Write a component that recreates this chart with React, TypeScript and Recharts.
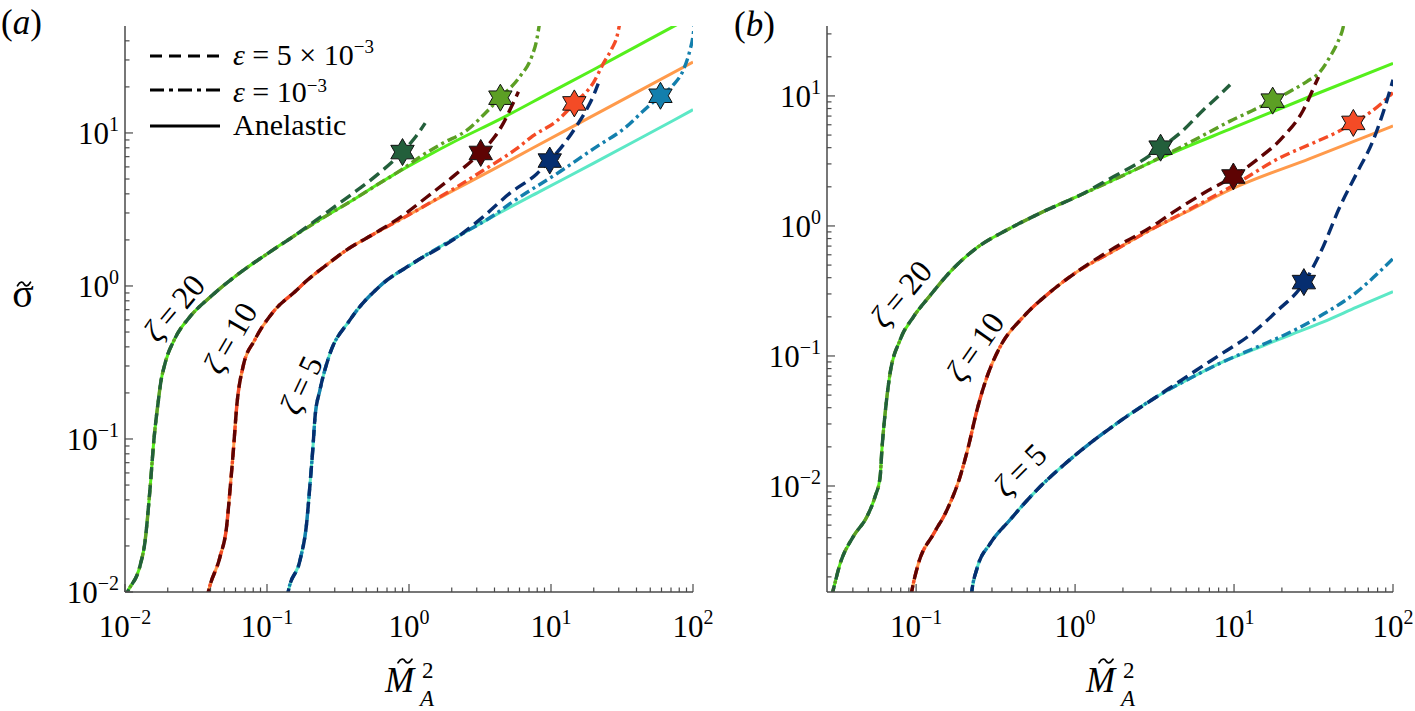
import React from "react";
import { ComposedChart, Line, Scatter, XAxis, YAxis } from "recharts";

type Pt = [number, number];

const FONT = "Liberation Serif, DejaVu Serif, Times New Roman, serif";
const AXIS_COLOR = "#4a4a4a";

// colours
const C20_SOLID = "#55ef1c";
const C20_DOT = "#5c9f24";
const C20_DASH = "#235f3b";
const C10_SOLID = "#ff9a4b";
const C10_DOT = "#f44b26";
const C10_DASH = "#5e0303";
const C5_SOLID = "#5ce8c6";
const C5_DOT = "#137fad";
const C5_DASH = "#062e70";

// ---------------- Panel (a) data ----------------
const A20_BASE: Pt[] = [[0.0098, 0.0088], [0.0104, 0.01], [0.0128, 0.015], [0.0138, 0.021], [0.015, 0.047], [0.016, 0.1], [0.0172, 0.18], [0.0178, 0.23], [0.0191, 0.31], [0.0225, 0.455], [0.0287, 0.63], [0.04, 0.85], [0.0645, 1.22], [0.1, 1.62], [0.15, 2.08]];
const A20_SOLID_TAIL: Pt[] = [[0.25, 2.8], [0.384, 3.55], [0.6, 4.6], [0.912, 5.8], [1.41, 7.25], [2, 8.6], [4.6, 12.6], [10, 18.5], [20, 26], [40, 36.8], [70.8, 49], [100, 58]];
const A20_DASH_TAIL: Pt[] = [[0.25, 2.92], [0.384, 3.9], [0.593, 5.3], [0.897, 7.5], [1.1, 9.3], [1.3, 11.6]];
const A20_DOT_TAIL: Pt[] = [[0.25, 2.8], [0.384, 3.55], [0.6, 4.6], [0.912, 5.85], [1.2, 7.0], [1.74, 8.6], [2.55, 10.4], [3.4, 13.3], [4.38, 17.0], [6.05, 23.4], [7.31, 31.5], [7.93, 40.5], [8.3, 52]];

const A10_BASE: Pt[] = [[0.0375, 0.0088], [0.0386, 0.01], [0.0467, 0.017], [0.052, 0.027], [0.0549, 0.0465], [0.058, 0.085], [0.0612, 0.163], [0.068, 0.3], [0.082, 0.444], [0.111, 0.68], [0.16, 0.93], [0.19, 1.08], [0.27, 1.4], [0.364, 1.72]];
const A10_SOLID_TAIL: Pt[] = [[0.5, 2.05], [0.735, 2.5], [1, 2.92], [1.65, 3.78], [3.92, 5.78], [7.5, 8.0], [17.8, 12.3], [40, 18.4], [100, 29.1]];
const A10_DASH_TAIL: Pt[] = [[0.58, 2.22], [0.91, 2.9], [1.33, 3.8], [2.1, 5.3], [3.16, 7.4], [4.0, 9.4], [4.6, 11.5], [5.2, 14.5], [5.9, 18.6]];
const A10_DOT_TAIL: Pt[] = [[0.5, 2.05], [0.735, 2.5], [1, 2.92], [1.65, 3.82], [2.4, 4.7], [3.34, 5.7], [5.73, 7.9], [7.5, 9.6], [11, 12.0], [14.6, 15.6], [20, 21.5], [23.4, 28.5], [27, 36], [29, 42], [30.5, 52]];

const A5_BASE: Pt[] = [[0.138, 0.0088], [0.141, 0.01], [0.171, 0.0162], [0.19, 0.028], [0.201, 0.051], [0.21, 0.085], [0.218, 0.14], [0.236, 0.209], [0.27, 0.335], [0.384, 0.6], [0.625, 1.0], [1.07, 1.41], [2.29, 2.15]];
const A5_SOLID_TAIL: Pt[] = [[4, 2.88], [8.37, 4.15], [20, 6.35], [40, 8.96], [72.6, 12.07], [100, 14.2]];
const A5_DASH_TAIL: Pt[] = [[3.34, 2.84], [5.14, 4.04], [7.93, 5.4], [9.8, 6.6], [12.5, 8.6], [15.5, 11.5], [18, 14.5], [20, 17.7], [21.5, 21]];
const A5_DOT_TAIL: Pt[] = [[4, 2.92], [5.14, 3.45], [11.6, 5.6], [20, 7.9], [34, 11], [45, 14], [59, 17.5], [72.6, 20.6], [85.5, 25.8], [95.3, 34.9], [99.5, 41.7], [102, 50]];

const A_STARS = [
  { x: 0.9, y: 7.5, c: C20_DASH },
  { x: 4.4, y: 17, c: C20_DOT },
  { x: 3.2, y: 7.4, c: C10_DASH },
  { x: 14.6, y: 15.6, c: C10_DOT },
  { x: 9.8, y: 6.6, c: C5_DASH },
  { x: 59, y: 17.5, c: C5_DOT },
];

// ---------------- Panel (b) data ----------------
const B20_BASE: Pt[] = [[0.0293, 0.0014], [0.0299, 0.00154], [0.0333, 0.00254], [0.0403, 0.0041], [0.049, 0.0058], [0.0552, 0.0083], [0.0594, 0.0118], [0.0609, 0.019], [0.0638, 0.036], [0.068, 0.069], [0.0793, 0.133], [0.0962, 0.2], [0.122, 0.29], [0.164, 0.445], [0.241, 0.68], [0.372, 0.93], [0.632, 1.29], [1.07, 1.72]];
const B20_SOLID_TAIL: Pt[] = [[2.01, 2.45], [3.43, 3.32], [10, 5.72], [30, 9.9], [100, 17.8]];
const B20_DASH_TAIL: Pt[] = [[1.74, 2.39], [2.5, 3.05], [3.45, 4.0], [4.57, 5.17], [6.41, 7.8], [8, 10], [9.44, 12.2]];
const B20_DOT_TAIL: Pt[] = [[2.01, 2.45], [3.43, 3.36], [5.29, 4.4], [9.44, 6.4], [13, 7.7], [17.5, 9.2], [23, 11], [28.7, 12.9], [35, 15.5], [40.2, 20.1], [45, 26], [48.7, 34.1], [50, 40]];

const B10_BASE: Pt[] = [[0.0925, 0.0014], [0.0938, 0.00154], [0.103, 0.0025], [0.129, 0.0043], [0.156, 0.0065], [0.189, 0.0118], [0.213, 0.02], [0.241, 0.038], [0.279, 0.069], [0.338, 0.118], [0.473, 0.2], [0.697, 0.31], [1.03, 0.445]];
const B10_SOLID_TAIL: Pt[] = [[1.7, 0.63], [2.82, 0.9], [5, 1.28], [9.9, 1.95], [30, 3.3], [100, 5.88]];
const B10_DASH_TAIL: Pt[] = [[1.7, 0.66], [3.04, 0.99], [4.36, 1.33], [6.5, 1.8], [9.9, 2.4], [13.9, 3.22], [20.4, 4.86], [27.3, 7.8], [32.3, 12.2], [34, 14]];
const B10_DOT_TAIL: Pt[] = [[1.7, 0.63], [2.82, 0.9], [5, 1.3], [9.9, 2.05], [19.5, 3.35], [31.5, 4.35], [45, 5.3], [56.3, 6.2], [70, 7.3], [85, 8.8], [100, 10.6]];

const B5_BASE: Pt[] = [[0.222, 0.0014], [0.224, 0.00154], [0.241, 0.0023], [0.292, 0.0036], [0.39, 0.0055], [0.574, 0.0093], [0.976, 0.0168], [1.83, 0.0303], [3.26, 0.0486]];
const B5_SOLID_TAIL: Pt[] = [[5.29, 0.0673], [8.57, 0.0904], [13.9, 0.1146], [22.5, 0.145], [36.5, 0.183], [59.1, 0.237], [100, 0.312]];
const B5_DASH_TAIL: Pt[] = [[5.82, 0.078], [8.57, 0.106], [12.6, 0.145], [18.5, 0.22], [27.3, 0.36], [34.8, 0.617], [46.4, 1.41], [59.1, 2.54], [75.2, 4.59], [89.1, 8.27], [100, 13.3]];
const B5_DOT_TAIL: Pt[] = [[5.29, 0.0673], [8.57, 0.0904], [13.9, 0.117], [22.5, 0.152], [36.5, 0.21], [59.1, 0.31], [80, 0.43], [100, 0.56]];

const B_STARS = [
  { x: 3.45, y: 4.0, c: C20_DASH },
  { x: 17.5, y: 9.2, c: C20_DOT },
  { x: 9.9, y: 2.4, c: C10_DASH },
  { x: 56.3, y: 6.2, c: C10_DOT },
  { x: 27.5, y: 0.37, c: C5_DASH },
];

// ---------------- axes ----------------
const A_X_DOMAIN: [number, number] = [0.01, 100];
const A_Y_DOMAIN: [number, number] = [0.01, 50];
const B_X_DOMAIN: [number, number] = [0.0275, 100];
const B_Y_DOMAIN: [number, number] = [0.00153, 34.5];

const MANTISSAS = [1, 2, 3, 4, 5, 6, 7, 8, 9];
const logTicks = (lo: number, hi: number) => {
  const out: number[] = [];
  for (let e = Math.floor(Math.log10(lo)); e <= Math.ceil(Math.log10(hi)); e++) {
    for (const m of MANTISSAS) {
      const v = parseFloat((m * Math.pow(10, e)).toPrecision(6));
      if (v >= lo * 0.9999 && v <= hi * 1.0001) out.push(v);
    }
  }
  return out;
};
const A_X_TICKS = logTicks(0.01, 100);
const A_Y_TICKS = logTicks(0.01, 40);
const B_X_TICKS = logTicks(0.03, 100);
const B_Y_TICKS = logTicks(0.002, 30);

const isMajor = (v: number) => Math.abs(Math.log10(v) - Math.round(Math.log10(v))) < 1e-6;
const expText = (v: number) => {
  const e = Math.round(Math.log10(v));
  return e < 0 ? "\u2212" + Math.abs(e) : String(e);
};
const MAJOR_LEN = 8;
const MINOR_LEN = 4.5;
const TICK_FS = 31;
const SUP_FS = 20;
const SUP_DY = -13;

function BottomTick(p: any) {
  const { x, y, payload } = p;
  const m = isMajor(payload.value);
  return (
    <g>
      <line x1={x} x2={x} y1={y} y2={y - (m ? MAJOR_LEN : MINOR_LEN)} stroke={AXIS_COLOR} strokeWidth={1.2} />
      {m && (
        <text x={x} y={y + 45} textAnchor="middle" fontFamily={FONT} fontSize={TICK_FS} fill="#000">
          10<tspan dy={SUP_DY} fontSize={SUP_FS}>{expText(payload.value)}</tspan>
        </text>
      )}
    </g>
  );
}
function TopTick(p: any) {
  const { x, y, payload } = p;
  const m = isMajor(payload.value);
  return <line x1={x} x2={x} y1={y} y2={y + (m ? MAJOR_LEN : MINOR_LEN)} stroke={AXIS_COLOR} strokeWidth={1.2} />;
}
function LeftTick(p: any) {
  const { x, y, payload } = p;
  const m = isMajor(payload.value);
  return (
    <g>
      <line x1={x} x2={x + (m ? MAJOR_LEN : MINOR_LEN)} y1={y} y2={y} stroke={AXIS_COLOR} strokeWidth={1.2} />
      {m && (
        <text x={x - 6} y={y + 11} textAnchor="end" fontFamily={FONT} fontSize={TICK_FS} fill="#000">
          10<tspan dy={SUP_DY} fontSize={SUP_FS}>{expText(payload.value)}</tspan>
        </text>
      )}
    </g>
  );
}
function RightTick(p: any) {
  const { x, y, payload } = p;
  const m = isMajor(payload.value);
  return <line x1={x} x2={x - (m ? MAJOR_LEN : MINOR_LEN)} y1={y} y2={y} stroke={AXIS_COLOR} strokeWidth={1.2} />;
}

function Hexagram(props: any) {
  const { cx, cy, payload } = props;
  if (cx == null || cy == null) return <g />;
  const R = 13.5;
  const r = R / Math.sqrt(3);
  const pts = Array.from({ length: 12 }, (_, i) => {
    const a = ((-90 + i * 30) * Math.PI) / 180;
    const rr = i % 2 === 0 ? R : r;
    return `${cx + rr * Math.cos(a)},${cy + rr * Math.sin(a)}`;
  }).join(" ");
  return <polygon points={pts} fill={payload.c} stroke="#111" strokeWidth={1} />;
}

type Curve = { key: string; pts: Pt[]; color: string; dash?: string; width: number };
const toXY = (arr: Pt[]) => arr.map(([x, y]) => ({ x, y }));

const DASH = "12 6";
const DASHDOT = "10 4 3 4";

const A_CURVES: Curve[] = [
  { key: "a20s", pts: [...A20_BASE, ...A20_SOLID_TAIL], color: C20_SOLID, width: 3 },
  { key: "a10s", pts: [...A10_BASE, ...A10_SOLID_TAIL], color: C10_SOLID, width: 3 },
  { key: "a5s", pts: [...A5_BASE, ...A5_SOLID_TAIL], color: C5_SOLID, width: 3 },
  { key: "a20d", pts: [...A20_BASE, ...A20_DOT_TAIL], color: C20_DOT, dash: DASHDOT, width: 3.4 },
  { key: "a10d", pts: [...A10_BASE, ...A10_DOT_TAIL], color: C10_DOT, dash: DASHDOT, width: 3.4 },
  { key: "a5d", pts: [...A5_BASE, ...A5_DOT_TAIL], color: C5_DOT, dash: DASHDOT, width: 3.4 },
  { key: "a20e", pts: [...A20_BASE, ...A20_DASH_TAIL], color: C20_DASH, dash: DASH, width: 3.4 },
  { key: "a10e", pts: [...A10_BASE, ...A10_DASH_TAIL], color: C10_DASH, dash: DASH, width: 3.4 },
  { key: "a5e", pts: [...A5_BASE, ...A5_DASH_TAIL], color: C5_DASH, dash: DASH, width: 3.4 },
];
const B_CURVES: Curve[] = [
  { key: "b20s", pts: [...B20_BASE, ...B20_SOLID_TAIL], color: C20_SOLID, width: 3 },
  { key: "b10s", pts: [...B10_BASE, ...B10_SOLID_TAIL], color: C10_SOLID, width: 3 },
  { key: "b5s", pts: [...B5_BASE, ...B5_SOLID_TAIL], color: C5_SOLID, width: 3 },
  { key: "b20d", pts: [...B20_BASE, ...B20_DOT_TAIL], color: C20_DOT, dash: DASHDOT, width: 3.4 },
  { key: "b10d", pts: [...B10_BASE, ...B10_DOT_TAIL], color: C10_DOT, dash: DASHDOT, width: 3.4 },
  { key: "b5d", pts: [...B5_BASE, ...B5_DOT_TAIL], color: C5_DOT, dash: DASHDOT, width: 3.4 },
  { key: "b20e", pts: [...B20_BASE, ...B20_DASH_TAIL], color: C20_DASH, dash: DASH, width: 3.4 },
  { key: "b10e", pts: [...B10_BASE, ...B10_DASH_TAIL], color: C10_DASH, dash: DASH, width: 3.4 },
  { key: "b5e", pts: [...B5_BASE, ...B5_DASH_TAIL], color: C5_DASH, dash: DASH, width: 3.4 },
];

function Panel(props: {
  left: number;
  width: number;
  rightMargin: number;
  yAxisWidth: number;
  xDomain: [number, number];
  yDomain: [number, number];
  xTicks: number[];
  yTicks: number[];
  curves: Curve[];
  stars: { x: number; y: number; c: string }[];
}) {
  const { left, width, rightMargin, yAxisWidth, xDomain, yDomain, xTicks, yTicks, curves, stars } = props;
  const axisLine = { stroke: AXIS_COLOR, strokeWidth: 1.5 };
  return (
    <div style={{ position: "absolute", left, top: 0 }}>
      <ComposedChart width={width} height={711} margin={{ top: 26, right: rightMargin, bottom: 0, left: 0 }}>
        <XAxis xAxisId="b" orientation="bottom" dataKey="x" type="number" scale="log" domain={xDomain} allowDataOverflow ticks={xTicks} interval={0} tickSize={0} tickMargin={0} tickLine={false} axisLine={axisLine} tick={(p: any) => <BottomTick {...p} />} height={119} />
        <XAxis xAxisId="t" orientation="top" dataKey="x" type="number" scale="log" domain={xDomain} allowDataOverflow ticks={xTicks} interval={0} tickSize={0} tickMargin={0} tickLine={false} axisLine={axisLine} tick={(p: any) => <TopTick {...p} />} height={0} />
        <YAxis yAxisId="l" orientation="left" type="number" scale="log" domain={yDomain} allowDataOverflow ticks={yTicks} interval={0} tickSize={0} tickMargin={0} tickLine={false} axisLine={axisLine} tick={(p: any) => <LeftTick {...p} />} width={yAxisWidth} />
        <YAxis yAxisId="r" orientation="right" type="number" scale="log" domain={yDomain} allowDataOverflow ticks={yTicks} interval={0} tickSize={0} tickMargin={0} tickLine={false} axisLine={axisLine} tick={(p: any) => <RightTick {...p} />} width={0} />
        {curves.map((c) => (
          <Line
            key={c.key}
            xAxisId="b"
            yAxisId="l"
            data={toXY(c.pts)}
            dataKey="y"
            type="monotone"
            stroke={c.color}
            strokeWidth={c.width}
            strokeDasharray={c.dash}
            dot={false}
            activeDot={false}
            isAnimationActive={false}
          />
        ))}
        <Scatter xAxisId="b" yAxisId="l" data={stars} dataKey="y" shape={(p: any) => <Hexagram {...p} />} isAnimationActive={false} />
      </ComposedChart>
    </div>
  );
}

function ZetaLabel({ x, y, angle, value }: { x: number; y: number; angle: number; value: string }) {
  return (
    <text transform={`translate(${x},${y}) rotate(${angle})`} textAnchor="middle" dominantBaseline="central" fontFamily={FONT} fontSize={32} fill="#000">
      <tspan fontStyle="italic">ζ</tspan>
      {"\u2009=\u2009" + value}
    </text>
  );
}

// hand-drawn tilde accent (path), centred at (x, y)
function Tilde({ x, y, w }: { x: number; y: number; w: number }) {
  const h = w / 2;
  return (
    <path
      d={`M ${x - h} ${y + 1.8} C ${x - h * 0.55} ${y - 3.2}, ${x - h * 0.2} ${y - 2.2}, ${x} ${y} S ${x + h * 0.55} ${y + 3.2}, ${x + h} ${y - 1.8}`}
      fill="none"
      stroke="#000"
      strokeWidth={1.7}
      strokeLinecap="round"
    />
  );
}

function MLabel({ cx }: { cx: number }) {
  return (
    <g fontFamily={FONT} fill="#000">
      <text x={cx - 24} y={692} fontSize={35} fontStyle="italic">M</text>
      <Tilde x={cx - 4} y={661} w={14} />
      <text x={cx + 13} y={678} fontSize={23}>2</text>
      <text x={cx + 11} y={706} fontSize={23} fontStyle="italic">A</text>
    </g>
  );
}

export default function App() {
  return (
    <div style={{ position: "absolute", left: 0, top: 0, width: 1415, height: 711, background: "#fff", overflow: "hidden", fontFamily: FONT }}>
      <Panel left={0} width={760} rightMargin={67} yAxisWidth={125} xDomain={A_X_DOMAIN} yDomain={A_Y_DOMAIN} xTicks={A_X_TICKS} yTicks={A_Y_TICKS} curves={A_CURVES} stars={A_STARS} />
      <Panel left={700} width={715} rightMargin={22} yAxisWidth={127} xDomain={B_X_DOMAIN} yDomain={B_Y_DOMAIN} xTicks={B_X_TICKS} yTicks={B_Y_TICKS} curves={B_CURVES} stars={B_STARS} />
      <svg width={1415} height={711} style={{ position: "absolute", left: 0, top: 0, pointerEvents: "none" }}>
        {/* panel labels */}
        <text x={1} y={34} fontFamily={FONT} fontSize={35} fill="#000">
          (<tspan fontStyle="italic">a</tspan>)
        </text>
        <text x={734} y={36} fontFamily={FONT} fontSize={35} fill="#000">
          (<tspan fontStyle="italic">b</tspan>)
        </text>
        {/* y label */}
        <text x={23} y={307} fontFamily={FONT} fontSize={40} textAnchor="middle" fill="#000">σ</text>
        <Tilde x={24} y={284} w={13} />
        {/* x labels */}
        <MLabel cx={409} />
        <MLabel cx={1110} />
        {/* zeta labels */}
        <ZetaLabel x={174} y={308} angle={-50} value="20" />
        <ZetaLabel x={230} y={338} angle={-60} value="10" />
        <ZetaLabel x={301} y={385} angle={-65} value="5" />
        <ZetaLabel x={901} y={294} angle={-50} value="20" />
        <ZetaLabel x={975} y={347} angle={-55} value="10" />
        <ZetaLabel x={1020} y={470} angle={-45} value="5" />
        {/* legend */}
        <g fontFamily={FONT} fill="#000">
          <line x1={150} x2={220} y1={56} y2={56} stroke="#000" strokeWidth={3.2} strokeDasharray="12 7" />
          <line x1={150} x2={220} y1={90} y2={90} stroke="#000" strokeWidth={3.2} strokeDasharray="14 5 4 5" />
          <line x1={150} x2={220} y1={126} y2={126} stroke="#000" strokeWidth={3.2} />
          <text x={233} y={65} fontSize={30}>
            <tspan fontStyle="italic">ε</tspan> = 5 × 10<tspan dy={-12} fontSize={19}>−3</tspan>
          </text>
          <text x={233} y={102} fontSize={30}>
            <tspan fontStyle="italic">ε</tspan> = 10<tspan dy={-10} fontSize={19}>−3</tspan>
          </text>
          <text x={233} y={135} fontSize={30}>Anelastic</text>
        </g>
      </svg>
    </div>
  );
}
